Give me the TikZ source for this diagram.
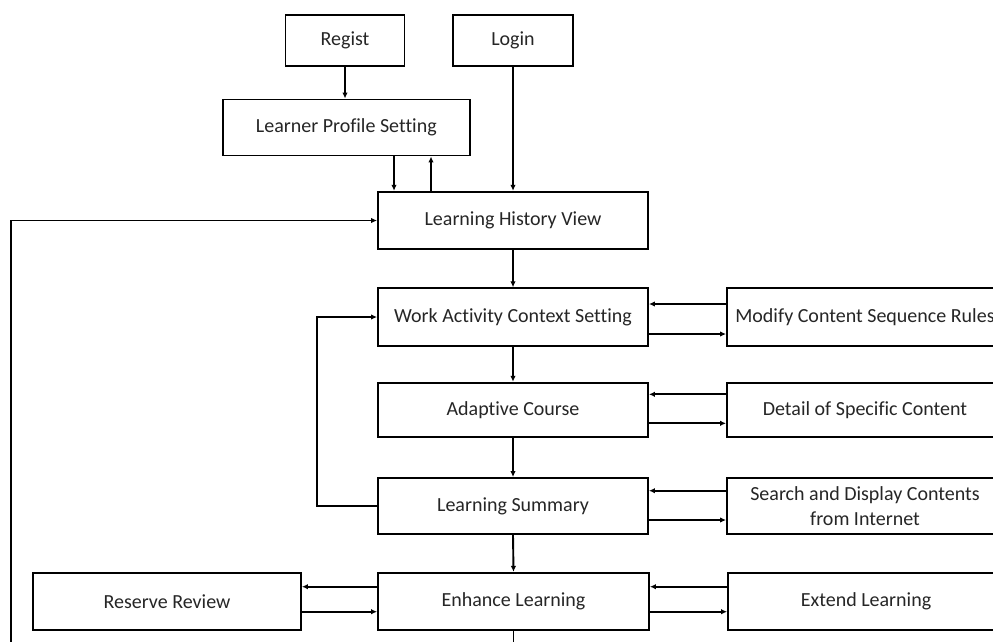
\documentclass[tikz,border=0pt]{standalone}
\usepackage{fontspec}
\setmainfont{Carlito}[Ligatures=NoCommon]
\usetikzlibrary{arrows.meta}
\begin{document}
\begin{tikzpicture}[x=1pt,y=-1pt,
  bx/.style={draw=black, line width=1.9pt, inner sep=0pt, align=center,
    font=\fontsize{20}{25}\selectfont, text=black!85},
  ar/.style={line width=1.9pt, -{Latex[length=6pt,width=5.5pt]}},
  ln/.style={line width=1.9pt}]
\useasboundingbox (0,0) rectangle (993,641);
\clip (0,0) rectangle (993,641);
\fill[white] (0,0) rectangle (993,641);
% nodes
\node[bx, minimum width=119pt, minimum height=51pt] (regist) at (345,40.5) {Regist};
\node[bx, minimum width=120pt, minimum height=51pt] (login) at (513,40.5) {Login};
\node[bx, minimum width=247pt, minimum height=56pt] (lps) at (346.3,127.5) {Learner Profile Setting};
\node[bx, minimum width=270pt, minimum height=57.5pt] (lhv) at (513,220.5) {Learning History View};
\node[bx, minimum width=270pt, minimum height=57.5pt] (wacs) at (513,317) {Work Activity Context Setting};
\node[bx, minimum width=276pt, minimum height=57.5pt] (mcsr) at (865,317) {Modify Content Sequence Rules};
\node[bx, minimum width=270pt, minimum height=54pt] (ac) at (513,409.7) {Adaptive Course};
\node[bx, minimum width=276pt, minimum height=54pt] (dsc) at (865,409.7) {Detail of Specific Content};
\node[bx, minimum width=270pt, minimum height=56pt] (ls) at (513,506) {Learning Summary};
\node[bx, minimum width=276pt, minimum height=56pt] (sdc) at (865,506) {Search and Display Contents\\from Internet};
\node[bx, minimum width=271pt, minimum height=57pt] (el) at (513.5,601.3) {Enhance Learning};
\node[bx, minimum width=268pt, minimum height=57pt] (rr) at (167,601.3) {Reserve Review};
\node[bx, minimum width=276pt, minimum height=57pt] (ext) at (866,601.3) {Extend Learning};
% vertical flow
\draw[ar] (regist.south) -- (lps.north -| regist.south);
\draw[ar] (login.south) -- (lhv.north -| login.south);
\draw[ar] (lps.south -| 394,0) -- (lhv.north -| 394,0);
\draw[ar] (lhv.north -| 431,0) -- (lps.south -| 431,0);
\draw[ar] (lhv.south) -- (wacs.north);
\draw[ar] (wacs.south) -- (ac.north);
\draw[ar] (ac.south) -- (ls.north);
\draw[ar] (ls.south) -- (el.north);
% side exchanges
\draw[ar] (mcsr.west |- 0,304) -- (wacs.east |- 0,304);
\draw[ar] (wacs.east |- 0,334) -- (mcsr.west |- 0,334);
\draw[ar] (dsc.west |- 0,394.3) -- (ac.east |- 0,394.3);
\draw[ar] (ac.east |- 0,423.3) -- (dsc.west |- 0,423.3);
\draw[ar] (sdc.west |- 0,490.7) -- (ls.east |- 0,490.7);
\draw[ar] (ls.east |- 0,520) -- (sdc.west |- 0,520);
\draw[ar] (ext.west |- 0,586.7) -- (el.east |- 0,586.7);
\draw[ar] (el.east |- 0,611.7) -- (ext.west |- 0,611.7);
\draw[ar] (el.west |- 0,586.7) -- (rr.east |- 0,586.7);
\draw[ar] (rr.east |- 0,611.7) -- (el.west |- 0,611.7);
% loops
\coordinate (lsl) at (316.7,506);
\draw[ar] (ls.west) -- (lsl) |- (wacs.west);
\coordinate (bot) at (513.5,700);
\coordinate (botl) at (11,700);
\draw[ar] (el.south) -- (bot) -- (botl) |- (lhv.west);
\end{tikzpicture}
\end{document}
